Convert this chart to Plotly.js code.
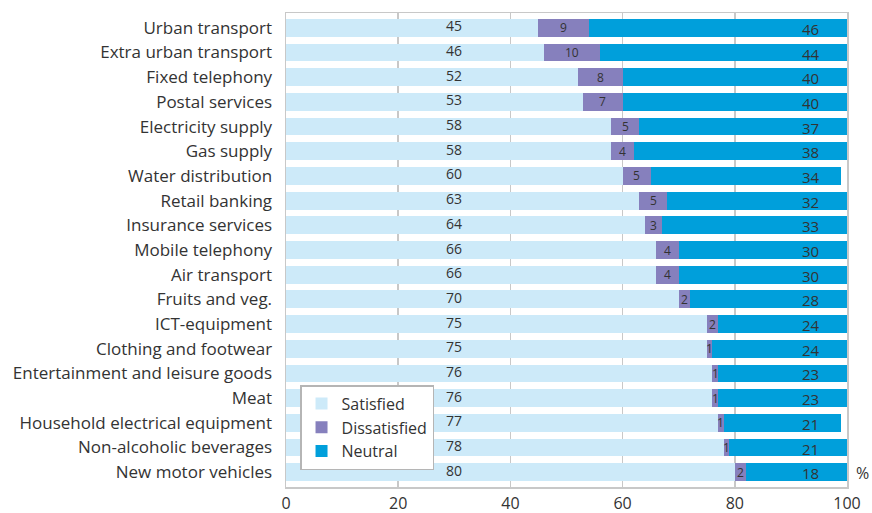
<!DOCTYPE html>
<html><head><meta charset="utf-8">
<script src="https://cdn.plot.ly/plotly-3.0.1.min.js"></script>
<style>body{margin:0;background:#fff}#c{width:872px;height:513px}</style>
</head><body><div id="c"></div>
<script>
const categories = ["Urban transport","Extra urban transport","Fixed telephony","Postal services","Electricity supply","Gas supply","Water distribution","Retail banking","Insurance services","Mobile telephony","Air transport","Fruits and veg.","ICT-equipment","Clothing and footwear","Entertainment and leisure goods","Meat","Household electrical equipment","Non-alcoholic beverages","New motor vehicles"];
const satisfied = [45,46,52,53,58,58,60,63,64,66,66,70,75,75,76,76,77,78,80];
const dissatisfied = [9,10,8,7,5,4,5,5,3,4,4,2,2,1,1,1,1,1,2];
const neutral = [46,44,40,40,37,38,34,32,33,30,30,28,24,24,23,23,21,21,18];
const xTicks = [0,20,40,60,80,100];

const txt = '#333';
const traces = [
  {type:'bar',orientation:'h',name:'Satisfied',y:categories,x:satisfied,marker:{color:'#cdeaf9'},width:0.72,hoverinfo:'skip'},
  {type:'bar',orientation:'h',name:'Dissatisfied',y:categories,x:dissatisfied,marker:{color:'#8680bd'},width:0.72,hoverinfo:'skip'},
  {type:'bar',orientation:'h',name:'Neutral',y:categories,x:neutral,marker:{color:'#009fdb'},width:0.72,hoverinfo:'skip'}
];
const ann = [];
categories.forEach((c,i)=>{
  ann.push({x:30,y:c,text:String(satisfied[i]),showarrow:false,font:{size:14,color:txt},xanchor:'center',yshift:2});
  ann.push({x:satisfied[i]+dissatisfied[i]/2,y:c,text:String(dissatisfied[i]),showarrow:false,font:{size:12,color:txt},xanchor:'center'});
  ann.push({x:93.5,y:c,text:String(neutral[i]),showarrow:false,font:{size:15,color:txt},xanchor:'center',yshift:-1});
});
ann.push({xref:'paper',yref:'paper',x:1.012,y:0.003,text:'%',showarrow:false,xanchor:'left',yanchor:'bottom',font:{size:16,color:txt}});
const layout = {
  width:872,height:513,
  margin:{l:286,r:25,t:13,b:26},
  barmode:'stack',bargap:0.28,
  paper_bgcolor:'#fff',plot_bgcolor:'#fff',
  font:{family:'"Open Sans", sans-serif',color:txt},
  xaxis:{range:[0,100],tickvals:xTicks,ticktext:xTicks.map(String),showgrid:true,gridcolor:'#c8c8c8',gridwidth:1.5,
    showline:true,linecolor:'#c8c8c8',linewidth:1.5,mirror:true,zeroline:false,tickfont:{size:16,color:txt},ticks:'',ticklabelstandoff:1},
  yaxis:{showline:true,linecolor:'#c8c8c8',linewidth:1.5,mirror:true,tickfont:{size:17,color:txt},ticks:'',ticklabelstandoff:9,range:[18.6,-0.6],autorange:false},
  legend:{x:0.025,y:0.215,xanchor:'left',yanchor:'top',bgcolor:'#fff',bordercolor:'#b5b5b5',borderwidth:1.5,font:{size:16,color:txt},traceorder:'normal',itemwidth:30,tracegroupgap:0},
  annotations:ann,
  showlegend:true
};
Plotly.newPlot('c',traces,layout,{displayModeBar:false,staticPlot:true});
</script></body></html>
